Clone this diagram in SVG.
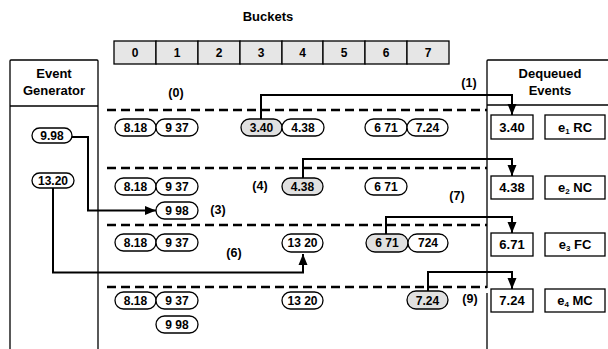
<svg xmlns="http://www.w3.org/2000/svg" width="608" height="349" viewBox="0 0 608 349">
  <style>
    text { font-family: "Liberation Sans", Arial, sans-serif; font-weight: bold; fill: #000; }
    .lbl { font-size: 12.5px; text-anchor: middle; }
    .hdr { font-size: 13px; text-anchor: middle; }
    .pill { stroke: #000; stroke-width: 1.3; fill: #fff; }
    .pill.sel { fill: #e0e0e0; }
    .ptx { font-size: 12px; text-anchor: middle; }
    .frame { fill: none; stroke: #000; stroke-width: 1.3; }
    .cell { fill: #e6e6e6; stroke: #000; stroke-width: 1.3; }
    .box { fill: #fff; stroke: #000; stroke-width: 1.3; }
    .btx { font-size: 13px; text-anchor: middle; }
    .sub { font-size: 8px; }
    .dash { stroke: #000; stroke-width: 2.5; stroke-dasharray: 9 5; fill: none; }
    .conn { fill: none; stroke: #000; stroke-width: 2; }
  </style>
  <defs>
    <marker id="arrow" markerUnits="userSpaceOnUse" markerWidth="12" markerHeight="12" viewBox="0 0 12 12" refX="11" refY="6" orient="auto">
      <path d="M0,1.5 L11,6 L0,10.5 Z" fill="#000"/>
    </marker>
  </defs>

  <rect width="608" height="349" fill="#fff"/>

  <!-- bucket array -->
  <g id="buckets">
    <text class="hdr" x="268" y="21">Buckets</text>
    <rect class="cell" x="114" y="41" width="42" height="23"/>
    <rect class="cell" x="156" y="41" width="42" height="23"/>
    <rect class="cell" x="198" y="41" width="42" height="23"/>
    <rect class="cell" x="240" y="41" width="42" height="23"/>
    <rect class="cell" x="282" y="41" width="41" height="23"/>
    <rect class="cell" x="323" y="41" width="42" height="23"/>
    <rect class="cell" x="365" y="41" width="42" height="23"/>
    <rect class="cell" x="407" y="41" width="42" height="23"/>
    <text class="ptx" x="135" y="57">0</text>
    <text class="ptx" x="177" y="57">1</text>
    <text class="ptx" x="219" y="57">2</text>
    <text class="ptx" x="261" y="57">3</text>
    <text class="ptx" x="302.5" y="57">4</text>
    <text class="ptx" x="344" y="57">5</text>
    <text class="ptx" x="386" y="57">6</text>
    <text class="ptx" x="428" y="57">7</text>
  </g>

  <!-- event generator panel -->
  <g id="generator">
    <path class="frame" d="M10,349 V61 Q10,60 11,60 H97 Q98,60 98,61 V349"/>
    <line class="frame" x1="10" y1="106" x2="98" y2="106"/>
    <text class="hdr" x="54" y="78">Event</text>
    <text class="hdr" x="54" y="95">Generator</text>
  </g>
  <g id="gen-998">
    <rect class="pill" x="32" y="128" width="40" height="15" rx="7.5"/>
    <text class="ptx" x="52" y="140">9.98</text>
  </g>
  <g id="gen-1320">
    <rect class="pill" x="32" y="173" width="42" height="15" rx="7.5"/>
    <text class="ptx" x="53" y="185">13.20</text>
  </g>

  <!-- dequeued events panel -->
  <g id="dequeued">
    <path class="frame" d="M487,288 V61 Q487,60 488,60 H608"/>
    <line class="frame" x1="487" y1="293" x2="487" y2="349"/>
    <line class="frame" x1="487" y1="105" x2="608" y2="105"/>
    <text class="hdr" x="550" y="78">Dequeued</text>
    <text class="hdr" x="550" y="95">Events</text>
  </g>
  <g id="deq-1">
    <rect class="box" x="491" y="115" width="42" height="24"/>
    <text class="btx" x="512" y="132">3.40</text>
    <rect class="box" x="545" y="115" width="60" height="24"/>
    <text class="btx" x="575" y="132">e<tspan class="sub" dy="2">1</tspan><tspan dy="-2"> RC</tspan></text>
  </g>
  <g id="deq-2">
    <rect class="box" x="491" y="176" width="42" height="23"/>
    <text class="btx" x="512" y="192">4.38</text>
    <rect class="box" x="545" y="176" width="60" height="23"/>
    <text class="btx" x="575" y="192">e<tspan class="sub" dy="2">2</tspan><tspan dy="-2"> NC</tspan></text>
  </g>
  <g id="deq-3">
    <rect class="box" x="491" y="233" width="42" height="23"/>
    <text class="btx" x="512" y="249">6.71</text>
    <rect class="box" x="545" y="233" width="60" height="23"/>
    <text class="btx" x="575" y="249">e<tspan class="sub" dy="2">3</tspan><tspan dy="-2"> FC</tspan></text>
  </g>
  <g id="deq-4">
    <rect class="box" x="491" y="289" width="42" height="23"/>
    <text class="btx" x="512" y="305">7.24</text>
    <rect class="box" x="545" y="289" width="60" height="23"/>
    <text class="btx" x="575" y="305">e<tspan class="sub" dy="2">4</tspan><tspan dy="-2"> MC</tspan></text>
  </g>

  <!-- step separators -->
  <g id="separators">
    <line class="dash" x1="107" y1="110" x2="487" y2="110"/>
    <line class="dash" x1="107" y1="168" x2="487" y2="168"/>
    <line class="dash" x1="107" y1="225" x2="487" y2="225"/>
    <line class="dash" x1="107" y1="287" x2="487" y2="287"/>
  </g>

  <!-- step 1 contents -->
  <g id="row1">
    <rect class="pill" x="115" y="119" width="41" height="17" rx="8.5"/>
    <rect class="pill" x="156" y="119" width="42" height="17" rx="8.5"/>
    <rect class="pill sel" x="241" y="119" width="41" height="17" rx="8.5"/>
    <rect class="pill" x="282" y="119" width="42" height="17" rx="8.5"/>
    <rect class="pill" x="365" y="119" width="42" height="17" rx="8.5"/>
    <rect class="pill" x="407" y="119" width="41" height="17" rx="8.5"/>
    <text class="ptx" x="135.5" y="131.5">8.18</text>
    <text class="ptx" x="177" y="131.5">9 37</text>
    <text class="ptx" x="261.5" y="131.5">3.40</text>
    <text class="ptx" x="303" y="131.5">4.38</text>
    <text class="ptx" x="386" y="131.5">6 71</text>
    <text class="ptx" x="427.5" y="131.5">7.24</text>
  </g>

  <!-- step 2 contents -->
  <g id="row2">
    <rect class="pill" x="115" y="178" width="41" height="17" rx="8.5"/>
    <rect class="pill" x="156" y="178" width="42" height="17" rx="8.5"/>
    <rect class="pill sel" x="282" y="178" width="41" height="17" rx="8.5"/>
    <rect class="pill" x="365" y="178" width="42" height="17" rx="8.5"/>
    <rect class="pill" x="156" y="202" width="42" height="17" rx="8.5"/>
    <text class="ptx" x="135.5" y="190.5">8.18</text>
    <text class="ptx" x="177" y="190.5">9 37</text>
    <text class="ptx" x="302.5" y="190.5">4.38</text>
    <text class="ptx" x="386" y="190.5">6 71</text>
    <text class="ptx" x="177" y="214.5">9 98</text>
  </g>

  <!-- step 3 contents -->
  <g id="row3">
    <rect class="pill" x="115" y="234" width="41" height="17" rx="8.5"/>
    <rect class="pill" x="156" y="234" width="42" height="17" rx="8.5"/>
    <rect class="pill" x="282" y="234" width="41" height="18" rx="9"/>
    <rect class="pill sel" x="366" y="234" width="42" height="18" rx="9"/>
    <rect class="pill" x="408" y="234" width="40" height="18" rx="9"/>
    <text class="ptx" x="135.5" y="246.5">8.18</text>
    <text class="ptx" x="177" y="246.5">9 37</text>
    <text class="ptx" x="302.5" y="247">13 20</text>
    <text class="ptx" x="387" y="247">6 71</text>
    <text class="ptx" x="428" y="247">724</text>
  </g>

  <!-- step 4 contents -->
  <g id="row4">
    <rect class="pill" x="115" y="292" width="41" height="17" rx="8.5"/>
    <rect class="pill" x="156" y="292" width="42" height="17" rx="8.5"/>
    <rect class="pill" x="156" y="316" width="42" height="17" rx="8.5"/>
    <rect class="pill" x="282" y="292" width="41" height="17" rx="8.5"/>
    <rect class="pill sel" x="407" y="291" width="41" height="18" rx="9"/>
    <text class="ptx" x="135.5" y="304.5">8.18</text>
    <text class="ptx" x="177" y="304.5">9 37</text>
    <text class="ptx" x="177" y="328.5">9 98</text>
    <text class="ptx" x="302.5" y="304.5">13 20</text>
    <text class="ptx" x="427.5" y="305">7.24</text>
  </g>

  <!-- step labels -->
  <g id="labels">
    <text class="lbl" x="176" y="97">(0)</text>
    <text class="lbl" x="469" y="87">(1)</text>
    <text class="lbl" x="218" y="214">(3)</text>
    <text class="lbl" x="260" y="190">(4)</text>
    <text class="lbl" x="234" y="257">(6)</text>
    <text class="lbl" x="457" y="200">(7)</text>
    <text class="lbl" x="470" y="303">(9)</text>
  </g>

  <!-- connectors -->
  <g id="connectors">
    <path class="conn" d="M261,119 V95 H512 V115" marker-end="url(#arrow)"/>
    <path class="conn" d="M303,178 V159 H512 V176" marker-end="url(#arrow)"/>
    <path class="conn" d="M72,137 H88 V210.5 H156" marker-end="url(#arrow)"/>
    <path class="conn" d="M53,188 V272.5 H303 V254" marker-end="url(#arrow)"/>
    <path class="conn" d="M386,234 V217 H512 V233" marker-end="url(#arrow)"/>
    <path class="conn" d="M428,291 V272 H512 V289" marker-end="url(#arrow)"/>
  </g>
</svg>
